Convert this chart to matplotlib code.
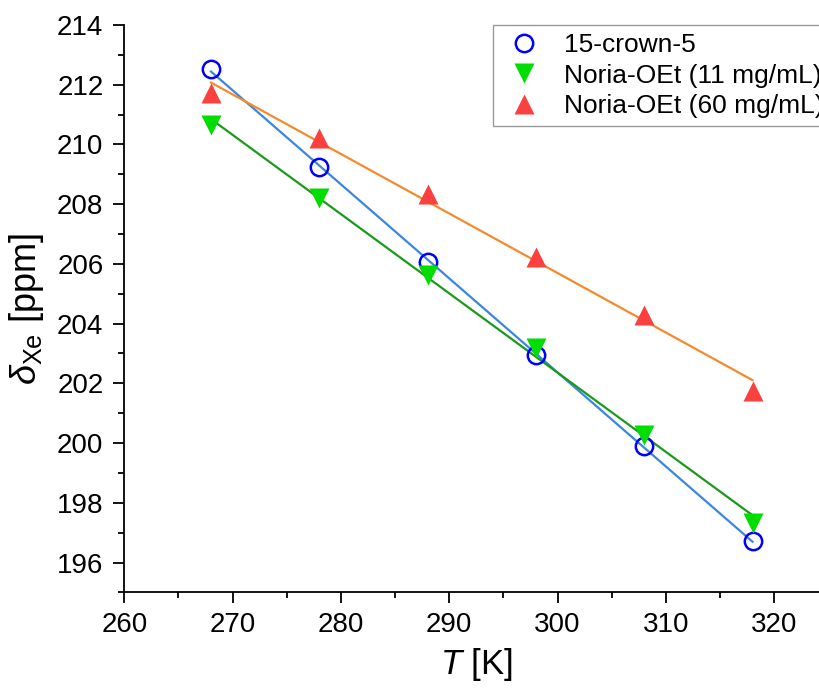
import numpy as np
import matplotlib
matplotlib.use('Agg')
import matplotlib.pyplot as plt
from matplotlib.ticker import MultipleLocator

plt.rcParams['font.family'] = ['Liberation Sans', 'DejaVu Sans']
plt.rcParams['mathtext.fontset'] = 'custom'
plt.rcParams['mathtext.rm'] = 'Liberation Sans'
plt.rcParams['mathtext.it'] = 'Liberation Sans:italic'

# temperatures [K]
temps = [268, 278, 288, 298, 308, 318]

# chemical shifts [ppm]
crown = [212.53, 209.25, 206.07, 202.95, 199.90, 196.72]
noria_11 = [210.65, 208.22, 205.63, 203.20, 200.27, 197.33]
noria_60 = [211.72, 210.22, 208.34, 206.22, 204.29, 201.75]

labels = ['15-crown-5', 'Noria-OEt (11 mg/mL)', 'Noria-OEt (60 mg/mL)']

fig = plt.figure(figsize=(8.19, 6.91), dpi=100)
ax = fig.add_axes([0.1518, 0.1427, 0.8596, 0.8211])

x = np.array(temps)

# linear fits
for ys, col in [(crown, '#3a86e0'), (noria_11, '#1a9a1a'), (noria_60, '#f58a2c')]:
    k, b = np.polyfit(x, ys, 1)
    ax.plot(x, k * x + b, '-', color=col, lw=1.6, zorder=2)

ax.plot(temps, crown, 'o', ms=12.5, mfc='none', mec='#0000ff', mew=1.8,
        label=labels[0], zorder=3, clip_on=False)
ax.plot(temps, noria_11, 'v', ms=14, color='#00dd00', mec='none',
        label=labels[1], zorder=3, clip_on=False)
ax.plot(temps, noria_60, '^', ms=14, color='#fb4040', mec='none',
        label=labels[2], zorder=3, clip_on=False)

ax.set_xlim(260, 325)
ax.set_ylim(195, 214)
ax.xaxis.set_major_locator(MultipleLocator(10))
ax.xaxis.set_minor_locator(MultipleLocator(5))
ax.yaxis.set_major_locator(MultipleLocator(2))
ax.yaxis.set_minor_locator(MultipleLocator(1))

for s in ['top', 'right']:
    ax.spines[s].set_visible(False)
for s in ['left', 'bottom']:
    ax.spines[s].set_linewidth(1.3)

ax.tick_params(which='major', direction='out', length=8, width=1.3,
               labelsize=20)
ax.tick_params(axis='y', which='major', pad=7)
ax.tick_params(axis='x', which='major', pad=6)
ax.tick_params(which='minor', direction='out', length=4, width=1.3)

ax.set_xlabel(r'$T$ [K]', fontsize=25, labelpad=6)
ax.set_ylabel(r'$\delta_{\mathrm{Xe}}$ [ppm]', fontsize=26, labelpad=8)

leg = ax.legend(loc='upper left', bbox_to_anchor=(0.523, 1.0),
                borderaxespad=0, fontsize=19, frameon=True, fancybox=False,
                edgecolor='#808080', handlelength=1.8, handletextpad=0.6,
                labelspacing=0.25, borderpad=0.3, markerscale=1.0)
leg.get_frame().set_linewidth(1.0)

fig.savefig('out.png', dpi=100)
